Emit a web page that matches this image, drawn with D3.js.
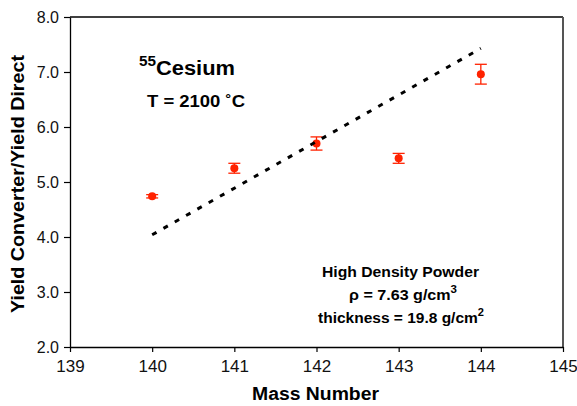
<!DOCTYPE html>
<html><head><meta charset="utf-8">
<script src="https://cdn.jsdelivr.net/npm/d3@7"></script>
<style>body{margin:0;background:#fff;} text{font-family:Arial,"Liberation Sans",sans-serif;}</style>
</head><body>
<svg id="c" width="577" height="406"></svg>
<script>
const massNumbers = [140, 141, 142, 143, 144];
const yieldRatio = [4.74, 5.25, 5.70, 5.43, 6.96];
const yieldError = [0.03, 0.09, 0.12, 0.09, 0.18];
const fitX = [140, 144];
const fitY = [4.04, 7.43];
const xTicks = [139, 140, 141, 142, 143, 144, 145];
const yTicks = [2, 3, 4, 5, 6, 7, 8];

const svg = d3.select("#c");
const L = 70, R = 563, T = 17, B = 347;
const x = d3.scaleLinear().domain([139, 145]).range([L, R]);
const y = d3.scaleLinear().domain([2, 8]).range([B, T]);

// frame (top and right)
svg.append("line").attr("x1", L).attr("x2", R).attr("y1", T).attr("y2", T)
  .attr("stroke", "#000").attr("stroke-width", 1.3);
svg.append("line").attr("x1", R).attr("x2", R).attr("y1", T).attr("y2", B)
  .attr("stroke", "#555").attr("stroke-width", 2);

const xa = svg.append("g").attr("transform", `translate(0,${B})`)
  .call(d3.axisBottom(x).tickValues(xTicks).tickFormat(d3.format("d")).tickSize(5).tickSizeOuter(0));
const ya = svg.append("g").attr("transform", `translate(${L},0)`)
  .call(d3.axisLeft(y).tickValues(yTicks).tickFormat(d3.format(".1f")).tickSize(6).tickSizeOuter(0));
[xa, ya].forEach(a => {
  a.select(".domain").attr("stroke", "#000").attr("stroke-width", 1.3);
  a.selectAll(".tick line").attr("stroke", "#000").attr("stroke-width", 1.2);
  a.selectAll("text").attr("fill", "#111")
    .style("font-family", "Arial, 'Liberation Sans', sans-serif");
});
xa.selectAll("text").attr("font-size", 17).attr("y", 25).attr("dy", 0);
ya.selectAll("text").attr("font-size", 16).attr("x", -11).attr("dy", "0.36em");

// error bars
const data = massNumbers.map((m, i) => ({m, v: yieldRatio[i], e: yieldError[i]}));
const eb = svg.append("g").attr("stroke", "#ff2200").attr("stroke-width", 1.3);
data.forEach(d => {
  eb.append("line").attr("x1", x(d.m)).attr("x2", x(d.m)).attr("y1", y(d.v + d.e)).attr("y2", y(d.v - d.e));
  [d.v + d.e, d.v - d.e].forEach(v => eb.append("line").attr("x1", x(d.m) - 6).attr("x2", x(d.m) + 6)
    .attr("y1", y(v)).attr("y2", y(v)));
});
svg.append("g").selectAll("circle").data(data).join("circle")
  .attr("cx", d => x(d.m)).attr("cy", d => y(d.v)).attr("r", 4).attr("fill", "#ff2200");

// fit line (drawn over the points)
svg.append("line").attr("x1", x(fitX[0])).attr("y1", y(fitY[0]))
  .attr("x2", x(fitX[1])).attr("y2", y(fitY[1]))
  .attr("stroke", "#000").attr("stroke-width", 3).attr("stroke-dasharray", "5,8");

// titles
svg.append("text").attr("x", 315.5).attr("y", 400).attr("text-anchor", "middle")
  .attr("font-size", 18).attr("font-weight", "bold")
  .attr("textLength", 127).attr("lengthAdjust", "spacingAndGlyphs").text("Mass Number");
svg.append("text").attr("transform", "translate(24,184) rotate(-90)").attr("text-anchor", "middle")
  .attr("font-size", 18).attr("font-weight", "bold")
  .attr("textLength", 258).attr("lengthAdjust", "spacingAndGlyphs").text("Yield Converter/Yield Direct");

// annotations
const t1 = svg.append("text").attr("x", 139).attr("y", 75).attr("font-weight", "bold").attr("font-size", 20)
  .attr("textLength", 96).attr("lengthAdjust", "spacingAndGlyphs");
t1.append("tspan").attr("font-size", 14).attr("dy", -9).text("55");
t1.append("tspan").attr("dy", 9).text("Cesium");
svg.append("text").attr("x", 147).attr("y", 107).attr("font-weight", "bold").attr("font-size", 16)
  .attr("textLength", 98).attr("lengthAdjust", "spacingAndGlyphs").text("T = 2100 ˚C");

svg.append("text").attr("x", 322).attr("y", 277)
  .attr("font-weight", "bold").attr("font-size", 14)
  .attr("textLength", 157).attr("lengthAdjust", "spacingAndGlyphs").text("High Density Powder");
const t3 = svg.append("text").attr("x", 349).attr("y", 300)
  .attr("font-weight", "bold").attr("font-size", 14)
  .attr("textLength", 108).attr("lengthAdjust", "spacingAndGlyphs");
t3.append("tspan").text("ρ = 7.63 g/cm");
t3.append("tspan").attr("font-size", 10).attr("dy", -7).text("3");
const t4 = svg.append("text").attr("x", 318).attr("y", 323)
  .attr("font-weight", "bold").attr("font-size", 14)
  .attr("textLength", 166).attr("lengthAdjust", "spacingAndGlyphs");
t4.append("tspan").text("thickness = 19.8 g/cm");
t4.append("tspan").attr("font-size", 10).attr("dy", -7).text("2");
</script>
</body></html>
